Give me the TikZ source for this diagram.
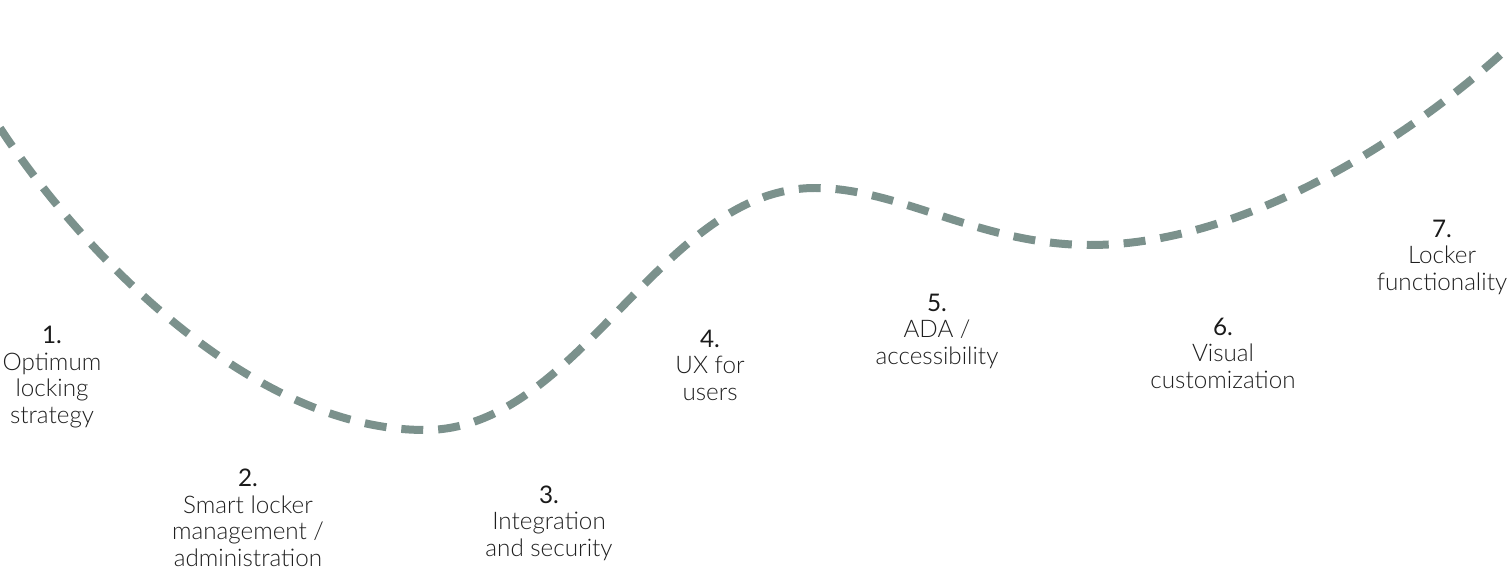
\documentclass[tikz,border=0pt]{standalone}
\usepackage{fontspec}
\setmainfont{Lato}
\newfontfamily\lightfont{Lato Light}
\usepackage{xcolor}
\usetikzlibrary{positioning}
\definecolor{pathgreen}{HTML}{7B918C}
\definecolor{labeltext}{HTML}{1F1F1F}
\definecolor{numtext}{HTML}{1A1A1A}
\tikzset{
  stage/.style={align=center, font=\lightfont\fontsize{13.8}{15.1}\selectfont, text=labeltext, inner sep=0pt},
  road/.style={draw=pathgreen, line width=4.55pt, dash pattern=on 12.5pt off 8.5pt},
}
\newcommand{\stagenum}[1]{{\normalfont\color{numtext}#1}}

\begin{document}
\begin{tikzpicture}[x=0.02cm,y=-0.02cm]
  \useasboundingbox (0,0) rectangle (1511,574);
  \coordinate (start) at (0,128);
  \coordinate (low) at (425,430);
  \coordinate (peak) at (815,188);
  \coordinate (dip) at (1090,245);
  \coordinate (finish) at (1511,45);
  \draw[road] (start) .. controls (80,250) and (250,430) .. (low)
    .. controls (580,430) and (660,188) .. (peak)
    .. controls (900,188) and (980,245) .. (dip)
    .. controls (1250,245) and (1420,130) .. (finish);
  \node[stage] (s1) at (52,377) {\stagenum{1.}\\Optimum\\locking\\strategy};
  \node[stage] (s2) at (248,518) {\stagenum{2.}\\Smart locker\\management /\\administration};
  \node[stage] (s3) at (549,523) {\stagenum{3.}\\Integration\\and security};
  \node[stage] (s4) at (710,365) {\stagenum{4.}\\UX for\\users};
  \node[stage] (s5) at (937,331) {\stagenum{5.}\\ADA /\\accessibility};
  \node[stage] (s6) at (1223,353) {\stagenum{6.}\\Visual\\customization};
  \node[stage] (s7) at (1442,257) {\stagenum{7.}\\Locker\\functionality};
\end{tikzpicture}
\end{document}
